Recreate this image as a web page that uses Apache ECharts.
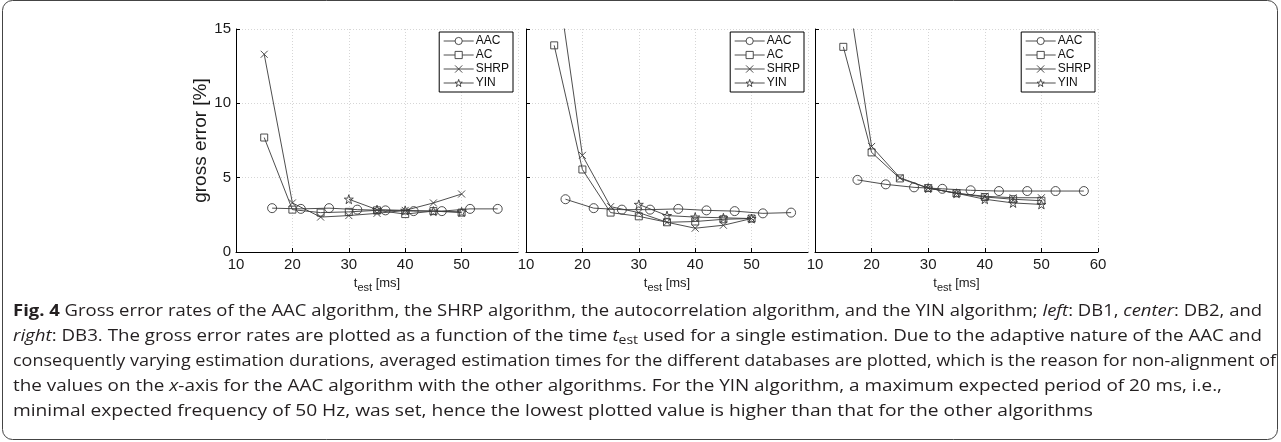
<!DOCTYPE html>
<html><head><meta charset="utf-8">
<script src="https://cdn.jsdelivr.net/npm/echarts@6/dist/echarts.min.js"></script>
<style>html,body{margin:0;padding:0;background:#fff}#c{width:1281px;height:442px}</style>
</head><body><div id="c"></div>
<script>
const seriesNames = ['AAC', 'AC', 'SHRP', 'YIN'];
const tStd = [15, 20, 25, 30, 35, 40, 45, 50];
const tYin = [30, 35, 40, 45, 50];
// DB1 (left)
const db1_aac_t = [16.4, 21.5, 26.5, 31.5, 36.5, 41.5, 46.5, 51.5, 56.4];
const db1_aac = [2.95, 2.9, 2.95, 2.85, 2.8, 2.75, 2.75, 2.9, 2.9];
const db1_ac = [7.7, 2.85, 2.65, 2.7, 2.8, 2.55, 2.75, 2.65];
const db1_shrp = [13.3, 3.3, 2.35, 2.45, 2.6, 2.8, 3.3, 3.9];
const db1_yin = [3.55, 2.85, 2.8, 2.75, 2.7];
// DB2 (center)
const db2_aac_t = [17.0, 22.0, 27.0, 32.0, 37.0, 42.0, 47.0, 52.0, 57.0];
const db2_aac = [3.55, 2.95, 2.85, 2.85, 2.9, 2.8, 2.75, 2.6, 2.65];
const db2_ac = [13.9, 5.55, 2.65, 2.4, 2.0, 2.05, 2.2, 2.25];
const db2_shrp = [19.8, 6.5, 3.05, 2.65, 2.0, 1.6, 1.8, 2.25];
const db2_yin = [3.2, 2.45, 2.35, 2.3, 2.25];
// DB3 (right)
const db3_aac_t = [17.5, 22.5, 27.5, 32.5, 37.5, 42.5, 47.5, 52.5, 57.5];
const db3_aac = [4.85, 4.55, 4.35, 4.25, 4.15, 4.1, 4.1, 4.1, 4.1];
const db3_ac = [13.8, 6.7, 4.95, 4.3, 3.95, 3.7, 3.55, 3.45];
const db3_shrp = [19.5, 7.1, 5.0, 4.3, 3.95, 3.75, 3.65, 3.65];
const db3_yin = [4.3, 3.95, 3.55, 3.3, 3.2];

const xMin = 10, xMax = 60, xStep = 10;
const yMin = 0, yMax = 15, yStep = 5;
const yName = 'gross error [%]';

const captionLines = [
  '{b|Fig. 4} Gross error rates of the AAC algorithm, the SHRP algorithm, the autocorrelation algorithm, and the YIN algorithm; {i|left}: DB1, {i|center}: DB2, and',
  '{i|right}: DB3. The gross error rates are plotted as a function of the time {i|t}{s|est} used for a single estimation. Due to the adaptive nature of the AAC and',
  'consequently varying estimation durations, averaged estimation times for the different databases are plotted, which is the reason for non-alignment of',
  'the values on the {i|x}-axis for the AAC algorithm with the other algorithms. For the YIN algorithm, a maximum expected period of 20 ms, i.e.,',
  'minimal expected frequency of 50 Hz, was set, hence the lowest plotted value is higher than that for the other algorithms'
];
// x where each caption line ends in the reference (used to fit the text width)
const captionEnds = [1262, 1262, 1276, 1222, 1093];

const panels = [
  {aacT: db1_aac_t, aac: db1_aac, ac: db1_ac, shrp: db1_shrp, yin: db1_yin},
  {aacT: db2_aac_t, aac: db2_aac, ac: db2_ac, shrp: db2_shrp, yin: db2_yin},
  {aacT: db3_aac_t, aac: db3_aac, ac: db3_ac, shrp: db3_shrp, yin: db3_yin}
];

const gridPos = [
  {left: 236, top: 29, width: 282, height: 223},
  {left: 526, top: 29, width: 282, height: 223},
  {left: 815, top: 29, width: 283, height: 223}
];
const legendRight = [768, 477, 186];

const symbols = {
  AAC: 'circle',
  AC: 'rect',
  SHRP: 'path://M0,0L10,10M10,0L0,10',
  YIN: 'path://M50,0L61.2,34.5L97.6,34.5L68.2,55.9L79.4,90.5L50,69.1L20.6,90.5L31.8,55.9L2.4,34.5L38.8,34.5Z'
};
const symSize = {AAC: 9, AC: 7, SHRP: 7, YIN: 9};
const lineCol = '#3a3a3a';
const txtCol = '#1a1a1a';

const zip = (xs, ys) => xs.map((x, i) => [x, ys[i]]);

const grids = [], xAxes = [], yAxes = [], series = [], legends = [];
panels.forEach((p, k) => {
  grids.push(Object.assign({containLabel: false}, gridPos[k]));
  xAxes.push({
    type: 'value', gridIndex: k, min: xMin, max: xMax, interval: xStep,
    axisLine: {show: true, onZero: false, lineStyle: {color: '#000', width: 1}},
    axisTick: {show: true, inside: true, length: 4, lineStyle: {color: '#000'}},
    axisLabel: {show: true, color: txtCol, fontSize: 15, fontFamily: 'Liberation Sans', margin: 5, showMaxLabel: k === 2},
    splitLine: {show: true, lineStyle: {color: '#d6d6d6', type: [1, 2], width: 1}},
    name: '{t|t}{s|est}{u| [ms]}', nameLocation: 'middle', nameGap: 18,
    nameTextStyle: {rich: {
      t: {fontSize: 13, fontFamily: 'Liberation Sans', color: txtCol},
      s: {fontSize: 11, fontFamily: 'Liberation Sans', color: txtCol, padding: [9, 0, 0, 0]},
      u: {fontSize: 13, fontFamily: 'Liberation Sans', color: txtCol}
    }}
  });
  yAxes.push({
    type: 'value', gridIndex: k, min: yMin, max: yMax, interval: yStep,
    axisLine: {show: true, lineStyle: {color: '#000', width: 1}},
    axisTick: {show: true, inside: true, length: 4, lineStyle: {color: '#000'}},
    axisLabel: {show: k === 0, color: txtCol, fontSize: 15, fontFamily: 'Liberation Sans', margin: 5},
    splitLine: {show: true, lineStyle: {color: '#d6d6d6', type: [1, 2], width: 1}},
    name: k === 0 ? yName : '', nameLocation: 'middle', nameGap: 23,
    nameTextStyle: {fontSize: 19, fontFamily: 'Liberation Sans', color: txtCol}
  });
  const sets = {
    AAC: zip(p.aacT, p.aac),
    AC: zip(tStd, p.ac),
    SHRP: zip(tStd, p.shrp),
    YIN: zip(tYin, p.yin)
  };
  seriesNames.forEach(n => {
    series.push({
      type: 'line', name: n, xAxisIndex: k, yAxisIndex: k, data: sets[n],
      symbol: symbols[n], symbolSize: symSize[n], showAllSymbol: true, clip: true,
      lineStyle: {color: lineCol, width: 0.9},
      itemStyle: {color: 'rgba(255,255,255,0)', borderColor: lineCol, borderWidth: 0.9},
      emphasis: {disabled: true}, animation: false, z: 3
    });
  });
  legends.push({
    orient: 'vertical', right: legendRight[k], top: 32, data: seriesNames,
    itemWidth: 30, itemHeight: 9, itemGap: 2, padding: [3, 4, 3, 4],
    backgroundColor: '#fff', borderColor: '#000', borderWidth: 1,
    itemStyle: {color: '#fff', borderColor: lineCol, borderWidth: 0.9},
    lineStyle: {color: lineCol, width: 0.9},
    textStyle: {fontSize: 12, lineHeight: 12, fontFamily: 'Liberation Sans', color: '#111', padding: [0, 0, 0, -3]},
    selectedMode: false
  });
});

// caption sizing: each line scaled horizontally so it ends where it does in the reference
const cv = document.createElement('canvas').getContext('2d');
function measure(line, size) {
  let w = 0;
  const re = /\{(\w)\|([^}]*)\}|([^{]+)/g;
  let m;
  while ((m = re.exec(line))) {
    let font = size + 'px "Open Sans"', txt = m[3];
    if (m[1]) {
      txt = m[2];
      if (m[1] === 'b') font = 'bold ' + size + 'px "Open Sans"';
      if (m[1] === 'i') font = 'italic ' + size + 'px "Open Sans"';
      if (m[1] === 's') font = Math.round(size * 0.72) + 'px "Open Sans"';
    }
    cv.font = font;
    w += cv.measureText(txt).width;
  }
  return w;
}
const capSize = 16, capX = 13;
const capY = [311, 336, 361, 386, 411];
const graphics = captionLines.map((t, i) => ({
  type: 'text', x: capX, y: capY[i],
  scaleX: (captionEnds[i] - capX) / measure(t, capSize), scaleY: 1,
  style: {
    text: t, fill: '#231f20', font: capSize + 'px "Open Sans"', verticalAlign: 'middle',
    rich: {
      b: {fontWeight: 'bold', fontSize: capSize, fontFamily: 'Open Sans', color: '#231f20'},
      i: {fontStyle: 'italic', fontSize: capSize, fontFamily: 'Open Sans', color: '#231f20'},
      s: {fontSize: Math.round(capSize * 0.72), fontFamily: 'Open Sans', color: '#231f20', padding: [9, 0, 0, 0]}
    }
  }
}));
graphics.push({
  type: 'rect', shape: {x: 2.5, y: 0.5, width: 1275, height: 439, r: 10},
  style: {fill: 'none', stroke: '#444', lineWidth: 1}, silent: true
});

const chart = echarts.init(document.getElementById('c'), null, {renderer: 'canvas'});
chart.setOption({
  animation: false,
  backgroundColor: '#fff',
  grid: grids, xAxis: xAxes, yAxis: yAxes, series: series, legend: legends,
  graphic: graphics
});
</script></body></html>
